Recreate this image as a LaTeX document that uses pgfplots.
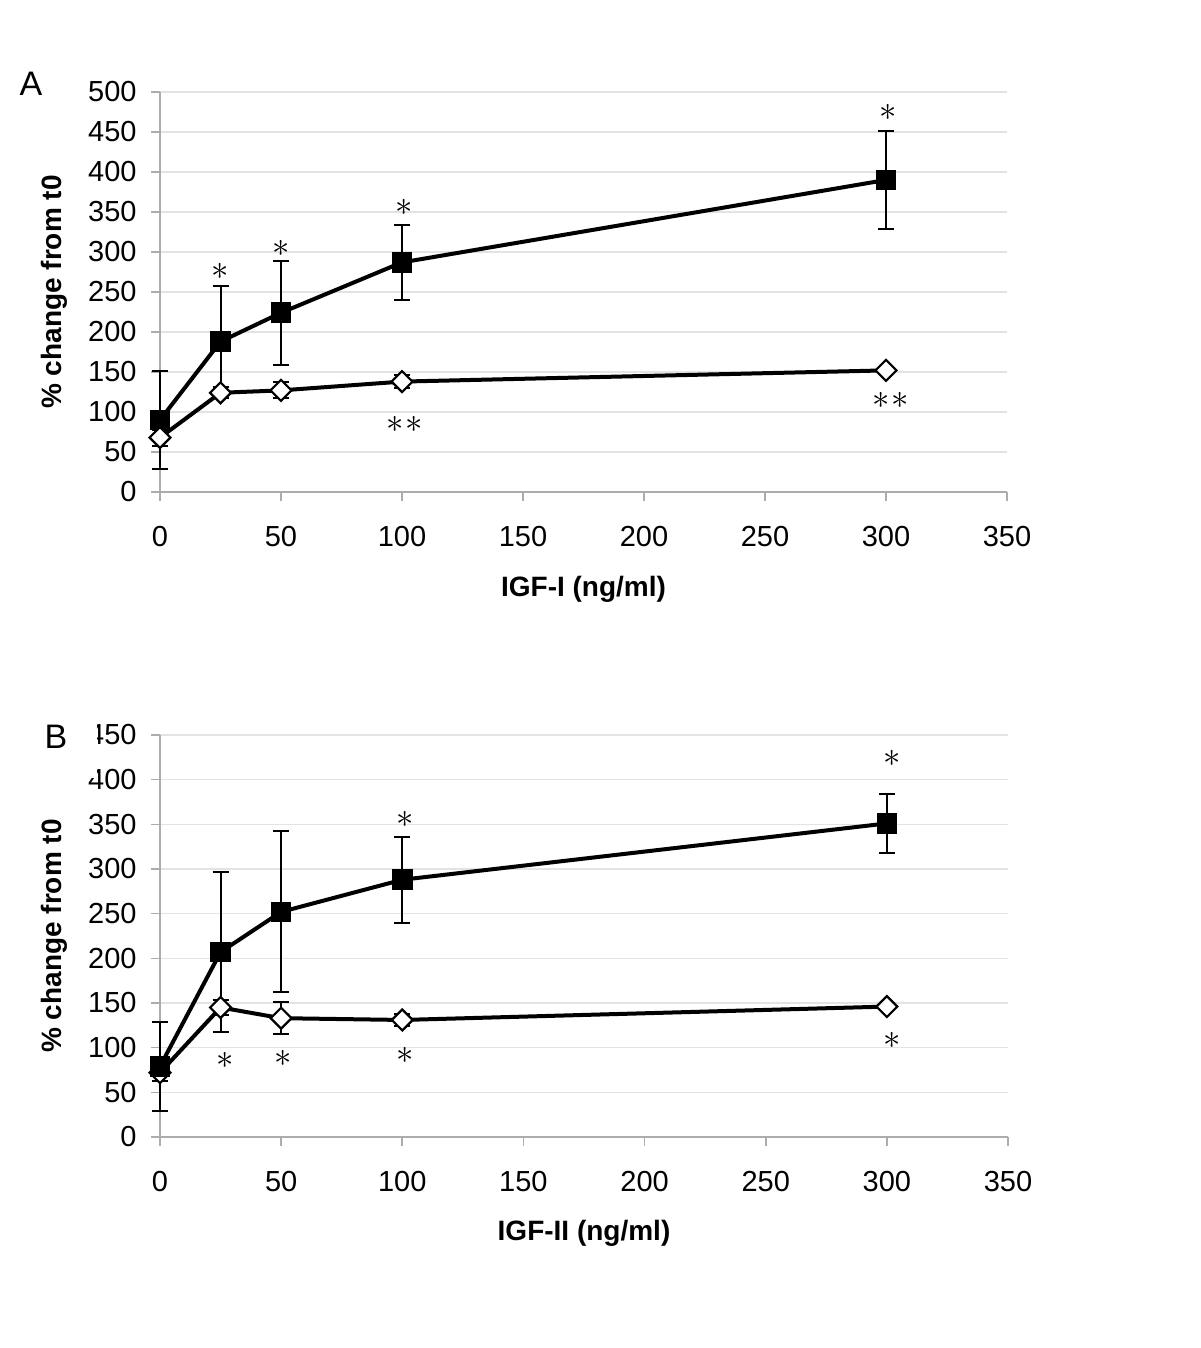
\documentclass[border=0pt]{standalone}
\usepackage{pgfplots}
\pgfplotsset{compat=1.18}
\usepackage{fontspec}
\setmainfont{Liberation Sans}
\newcommand\st{{\fontsize{18}{18}\selectfont$\ast$}}
\newcommand\stst{{\fontsize{18}{18}\selectfont${\ast}\kern1pt{\ast}$}}
\pgfplotsset{
  panel/.style={
    scale only axis, clip=false,
    xmin=0, xmax=350, ymin=0,
    xtick={0,50,...,350},
    axis x line*=bottom, axis y line*=left,
    axis line style={gray!65, line width=0.8pt},
    tick style={gray!65, line width=0.8pt},
    major tick length=4.5pt, tick align=outside,
    ymajorgrids, grid style={gray!22, line width=0.8pt},
    /pgf/number format/assume math mode=true,
    tick label style={font=\fontsize{14.5}{16}\selectfont},
    xticklabel style={anchor=center, yshift=-18pt},
    yticklabel style={anchor=east, inner sep=0pt, xshift=-7pt},
    label style={font=\bfseries\fontsize{14}{16}\selectfont},
    ylabel={\% change from t0},
    ylabel style={at={(axis description cs:-0.1251,0.5)}, anchor=center},
  },
  sq/.style={black, line width=2pt, mark=square*, mark size=4.9pt,
    mark options={solid, fill=black, draw=black, line width=0.5pt},
    error bars/.cd, y dir=both, y explicit,
    error bar style={line width=1pt, black},
    error mark options={rotate=90, mark size=4pt, line width=1pt, black}},
  dm/.style={black, line width=2pt, mark=square*, mark size=3.7pt,
    mark options={solid, rotate=45, fill=white, draw=black, line width=1.1pt},
    error bars/.cd, y dir=both, y explicit,
    error bar style={line width=1pt, black},
    error mark options={rotate=90, mark size=4pt, line width=1pt, black}},
}
\begin{document}
\begin{tikzpicture}
\path[use as bounding box] (0,0) rectangle (600pt,674pt);
% Panel A
\begin{axis}[panel, at={(80pt,428pt)}, anchor=south west,
  width=423.5pt, height=200pt, ymax=500, ytick={0,50,...,500},
  xlabel={IGF-I (ng/ml)},
  xlabel style={at={(axis description cs:0.5,-0.2425)}, anchor=center}]
\addplot[sq] coordinates {(0,90) +- (0,61) (25,188) +- (0,70) (50,224) +- (0,65) (100,287) +- (0,47) (300,390) +- (0,61)};
\addplot[dm] coordinates {(0,68) +- (0,10) (25,124) +- (0,7) (50,127) +- (0,10) (100,138) +- (0,8) (300,152) +- (0,2)};
\node at (axis cs:25,276) {\st};
\node at (axis cs:50,305) {\st};
\node at (axis cs:101,356) {\st};
\node at (axis cs:301,474) {\st};
\node at (axis cs:101,85) {\stst};
\node at (axis cs:302,115) {\stst};
\end{axis}
% Panel B
\begin{axis}[panel, at={(80pt,105.5pt)}, anchor=south west,
  width=424pt, height=201pt, ymax=450, ytick={0,50,...,450},
  xlabel={IGF-II (ng/ml)},
  xlabel style={at={(axis description cs:0.5,-0.2388)}, anchor=center}]
\addplot[dm] coordinates {(0,72) +- (0,9) (25,145) +- (0,8) (50,133) +- (0,18) (100,131) +- (0,7) (300,146) +- (0,3)};
\addplot[sq] coordinates {(0,79) +- (0,50) (25,207) +- (0,90) (50,252) +- (0,90) (100,288) +- (0,48) (300,351) +- (0,33)};
\node at (axis cs:101,355) {\st};
\node at (axis cs:302,424) {\st};
\node at (axis cs:27,86) {\st};
\node at (axis cs:51,88) {\st};
\node at (axis cs:101,91) {\st};
\node at (axis cs:302,108) {\st};
\end{axis}
\fill[white] (20pt,285pt) rectangle (48.5pt,318pt);
\node[font=\fontsize{17}{18}\selectfont] at (15.5pt,632pt) {A};
\node[font=\fontsize{17}{18}\selectfont] at (28pt,305.5pt) {B};
\end{tikzpicture}
\end{document}
